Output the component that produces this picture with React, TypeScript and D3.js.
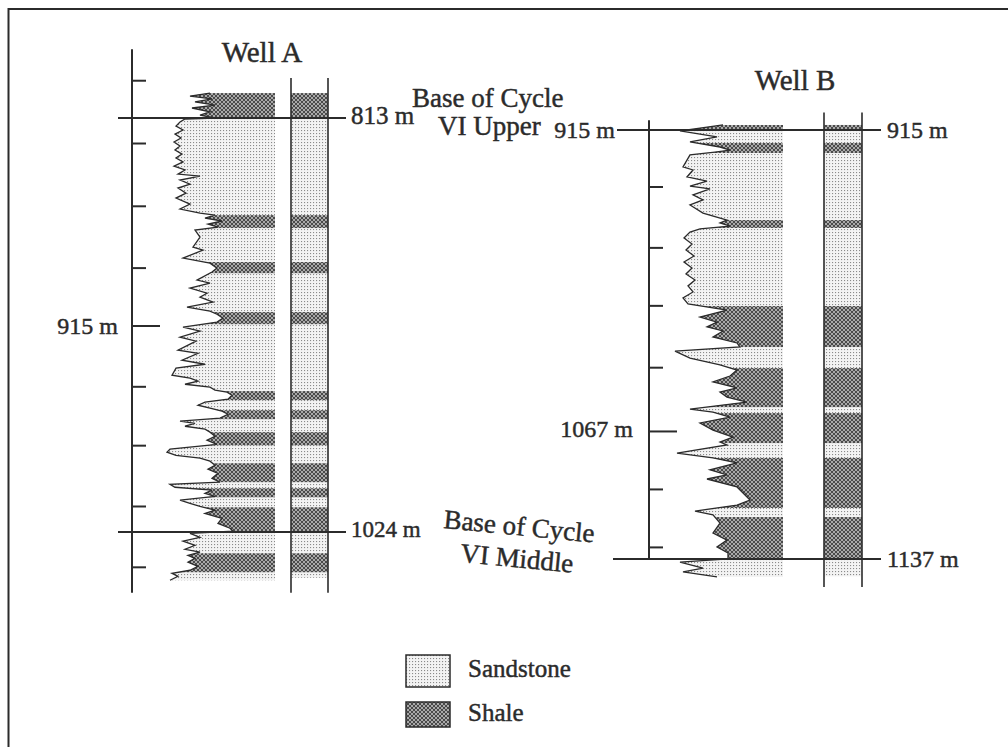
import * as d3 from "d3";

// Well A gamma log (depth in m, gamma reading)
const wellADepth = [
  800.3, 801.8, 803.3, 804.8, 806.4, 807.9, 809.9, 811.5, 813.0, 813.5, 815.0, 817.1, 819.1, 821.2, 823.2, 825.2,
  827.3, 829.3, 831.4, 833.4, 835.4, 837.5, 839.5, 841.6, 842.6, 844.6, 846.7, 848.7, 851.3, 853.8, 856.9, 859.4,
  861.5, 862.5, 864.0, 865.5, 867.1, 868.6, 870.1, 873.7, 878.8, 880.3, 884.4, 887.0, 889.5, 891.5, 895.6, 897.2,
  899.7, 902.3, 904.3, 906.8, 909.4, 911.4, 913.0, 915.0, 917.0, 919.6, 921.6, 924.7, 926.7, 931.3, 932.9, 936.4,
  938.5, 940.5, 944.1, 945.6, 947.1, 948.7, 950.2, 951.7, 952.7, 954.3, 956.3, 957.8, 959.4, 960.9, 962.4, 964.0,
  966.0, 967.5, 968.6, 970.1, 971.6, 973.1, 975.2, 977.2, 979.3, 981.8, 983.3, 984.9, 986.4, 987.9, 990.0, 992.0,
  994.1, 996.6, 998.6, 999.7, 1001.2, 1002.7, 1004.3, 1005.8, 1007.8, 1009.4, 1010.9, 1012.9, 1014.5, 1017.0, 1019.6, 1022.1,
  1023.6, 1024.7, 1026.7, 1028.7, 1030.8, 1032.8, 1034.3, 1035.9, 1037.4, 1039.4, 1041.5, 1043.5, 1045.1, 1046.6, 1048.6,
];
const wellAGamma = [
  45, 25, 47, 30, 50, 27, 45, 35, 50, 20, 15, 11, 18, 10, 16, 9,
  15, 10, 17, 11, 18, 9, 20, 13, 35, 15, 25, 13, 21, 11, 25, 15,
  35, 50, 40, 57, 43, 53, 30, 35, 28, 38, 18, 45, 52, 47, 32, 45,
  25, 42, 35, 48, 22, 45, 52, 58, 52, 18, 35, 15, 31, 13, 33, 17,
  40, 11, 7, 25, 33, 20, 45, 50, 62, 67, 63, 40, 33, 45, 57, 63,
  55, 15, 30, 20, 40, 45, 50, 42, 52, 5, 2, 11, 35, 45, 50, 43,
  53, 47, 55, 5, 10, 47, 40, 50, 15, 25, 35, 50, 40, 57, 53, 65,
  68, 25, 35, 18, 30, 20, 35, 23, 30, 23, 33, 25, 7, 13, 5,
];
const wellAShaleTop = [800.3, 862.5, 886.4, 911.9, 952.2, 961.9, 973.1, 989.0, 1001.7, 1011.4, 1034.9];
const wellAShaleBase = [813, 869.1, 892.1, 918.1, 956.8, 966.5, 979.8, 998.6, 1006.3, 1024, 1044.5];
const wellATicks = [794, 826, 858, 889.5, 919, 950, 980, 1011, 1042];
const wellATickLabels = ["", "", "", "", "915 m", "", "", "", ""];
const wellAMarkers = [813, 1024];
const wellAMarkerLabels = ["813 m", "1024 m"];

// Well B gamma log
const wellBDepth = [
  912.4, 914.0, 915.5, 918.6, 921.2, 923.8, 925.4, 926.4, 927.9, 934.1, 935.7, 939.3, 941.4, 944.0, 945.5, 948.6,
  951.2, 953.8, 958.0, 961.6, 963.1, 964.7, 966.2, 967.8, 970.9, 974.0, 977.1, 980.2, 983.3, 986.4, 989.5, 992.6,
  995.7, 998.8, 1001.9, 1005.0, 1008.2, 1011.8, 1014.4, 1016.9, 1019.0, 1022.1, 1025.2, 1027.3, 1029.4, 1033.0, 1036.6, 1039.2,
  1042.3, 1045.4, 1048.5, 1050.6, 1053.2, 1055.8, 1059.4, 1061.0, 1063.6, 1066.6, 1070.3, 1073.9, 1076.5, 1078.0, 1082.2, 1084.7,
  1087.3, 1090.9, 1093.5, 1095.6, 1099.7, 1106.5, 1109.1, 1112.2, 1114.2, 1118.4, 1123.6, 1127.2, 1130.8, 1133.9, 1137.0, 1138.6,
  1141.7, 1143.7, 1146.3,
];
const wellBGamma = [
  50, 27, 7, 44, 17, 47, 57, 42, 17, 10, 20, 14, 34, 17, 37, 20,
  30, 17, 30, 54, 47, 57, 27, 17, 11, 19, 13, 21, 11, 19, 13, 22,
  15, 20, 10, 15, 54, 27, 44, 34, 50, 40, 64, 67, 2, 17, 47, 64,
  57, 40, 64, 47, 54, 74, 17, 40, 57, 27, 40, 60, 47, 54, 4, 40,
  64, 37, 54, 34, 64, 77, 64, 22, 40, 47, 40, 54, 44, 55, 55, 7,
  30, 10, 44,
];
const wellBShaleTop = [912.4, 921.7, 961.6, 1006.1, 1038.2, 1061.5, 1084.7, 1115.3];
const wellBShaleBase = [915, 926.9, 965.7, 1027.3, 1058.4, 1077.0, 1110.6, 1137];
const wellBTicks = [944.5, 976, 1006, 1038, 1071, 1101, 1131];
const wellBTickLabels = ["", "", "", "", "1067 m", "", ""];
const wellBMarkers = [915, 1137];
const wellBMarkerLabels = ["915 m", "1137 m"];

const legendNames = ["Sandstone", "Shale"];

const INK = "#2b2b2b";
const FONT = "'Liberation Serif', 'Times New Roman', serif";
const txt = { fill: INK, stroke: INK, strokeWidth: 0.45 };

function Well({ id, depth, gamma, shaleTop, shaleBase, y, g, strip, border, fillBase }: any) {
  const pts = depth.map((d: number, i: number) => [d, gamma[i]]);
  const right = g.range()[1];
  const area = d3
    .area<number[]>()
    .y((d) => y(d[0]))
    .x0((d) => g(d[1]))
    .x1(right);
  const line = d3
    .line<number[]>()
    .x((d) => g(d[1]))
    .y((d) => y(d[0]));
  const top = depth[0];
  return (
    <g>
      <defs>
        <clipPath id={"clip" + id}>
          <path d={area(pts) || ""} />
        </clipPath>
      </defs>
      <path d={area(pts) || ""} fill="url(#sand)" />
      <g clipPath={`url(#clip${id})`}>
        {shaleTop.map((t: number, i: number) => (
          <rect key={i} x={g.range()[0] - 20} width={right - g.range()[0] + 20} y={y(t)} height={y(shaleBase[i]) - y(t)} fill="url(#shale)" />
        ))}
      </g>
      <path d={line(pts) || ""} fill="none" stroke={INK} strokeWidth={1.3} />
      {/* lithology strip */}
      <rect x={strip[0]} width={strip[1] - strip[0]} y={y(top)} height={y(fillBase) - y(top)} fill="url(#sand)" />
      {shaleTop.map((t: number, i: number) => (
        <rect key={"s" + i} x={strip[0]} width={strip[1] - strip[0]} y={y(t)} height={y(shaleBase[i]) - y(t)} fill="url(#shale)" />
      ))}
      {strip.map((sx: number, i: number) => (
        <line key={"b" + i} x1={sx} x2={sx} y1={y(border[0])} y2={y(border[1])} stroke={INK} strokeWidth={1.6} />
      ))}
    </g>
  );
}

export default function App() {
  const yA = d3.scaleLinear().domain([813, 1024]).range([118, 532]);
  const gA = d3.scaleLinear().domain([0, 110]).range([165, 275]);
  const yB = d3.scaleLinear().domain([915, 1137]).range([130, 559]);
  const gB = d3.scaleLinear().domain([0, 110]).range([673, 783]);

  const axisAX = 132;
  const axisBX = 649;

  return (
    <svg width={1008} height={747} style={{ position: "absolute", left: 0, top: 0, background: "#fff" }} fontFamily={FONT}>
      <defs>
        <pattern id="sand" width={3} height={3} patternUnits="userSpaceOnUse">
          <rect width={3} height={3} fill="#f3f3f3" />
          <rect x={1} y={1} width={1.1} height={1.1} fill="#8a8a8a" />
        </pattern>
        <pattern id="shale" width={4} height={4} patternUnits="userSpaceOnUse">
          <rect width={4} height={4} fill="#a9a9a9" />
          <path d="M0,0L4,4M4,0L0,4" stroke="#4a4a4a" strokeWidth={1} />
        </pattern>
      </defs>

      {/* frame */}
      <path d="M8.5,747 L8.5,9 L1008,9" fill="none" stroke={INK} strokeWidth={2} />

      {/* Well A */}
      <text x={262} y={62} fontSize={29} textAnchor="middle" {...txt}>Well A</text>
      <Well id="A" depth={wellADepth} gamma={wellAGamma} shaleTop={wellAShaleTop} shaleBase={wellAShaleBase}
        y={yA} g={gA} strip={[291, 328]} border={[792.6, 1055]} fillBase={1047.3} />
      <line x1={axisAX} x2={axisAX} y1={yA(778)} y2={yA(1055)} stroke={INK} strokeWidth={2} />
      {wellATicks.map((t, i) => (
        <g key={i}>
          <line x1={axisAX} x2={axisAX + (wellATickLabels[i] ? 28 : 14)} y1={yA(t)} y2={yA(t)} stroke={INK} strokeWidth={2} />
          {wellATickLabels[i] && (
            <text x={118} y={yA(t) + 8} fontSize={24} textAnchor="end" {...txt}>{wellATickLabels[i]}</text>
          )}
        </g>
      ))}
      {wellAMarkers.map((m, i) => (
        <g key={i}>
          <line x1={118} x2={346} y1={yA(m)} y2={yA(m)} stroke={INK} strokeWidth={2} />
          <text x={351} y={yA(m) + (i === 0 ? 6 : 5)} fontSize={i === 0 ? 25 : 23} {...txt}>{wellAMarkerLabels[i]}</text>
        </g>
      ))}
      <text x={412} y={107} fontSize={27} {...txt}>Base of Cycle</text>
      <text x={438} y={135} fontSize={27} {...txt}>VI Upper</text>
      <g transform="translate(443,528) rotate(5.5)">
        <text x={0} y={0} fontSize={27} {...txt}>Base of Cycle</text>
        <text x={20} y={32} fontSize={27} {...txt}>VI Middle</text>
      </g>

      {/* Well B */}
      <text x={795} y={90} fontSize={29} textAnchor="middle" {...txt}>Well B</text>
      <Well id="B" depth={wellBDepth} gamma={wellBGamma} shaleTop={wellBShaleTop} shaleBase={wellBShaleBase}
        y={yB} g={gB} strip={[824, 862]} border={[906, 1151.5]} fillBase={1146} />
      <line x1={axisBX} x2={axisBX} y1={yB(910)} y2={yB(1137)} stroke={INK} strokeWidth={2} />
      {wellBTicks.map((t, i) => (
        <g key={i}>
          <line x1={axisBX} x2={axisBX + (wellBTickLabels[i] ? 28 : 14)} y1={yB(t)} y2={yB(t)} stroke={INK} strokeWidth={2} />
          {wellBTickLabels[i] && (
            <text x={633} y={yB(t) + 6} fontSize={24} textAnchor="end" {...txt}>{wellBTickLabels[i]}</text>
          )}
        </g>
      ))}
      {wellBMarkers.map((m, i) => (
        <g key={i}>
          <line x1={i === 0 ? 617 : 613} x2={881} y1={yB(m)} y2={yB(m)} stroke={INK} strokeWidth={2} />
          <text x={887} y={yB(m) + 8} fontSize={24} {...txt}>{wellBMarkerLabels[i]}</text>
        </g>
      ))}
      <text x={615} y={yB(915) + 8} fontSize={24} textAnchor="end" {...txt}>{wellBMarkerLabels[0]}</text>

      {/* legend */}
      {legendNames.map((n, i) => (
        <g key={n}>
          <rect x={406} y={i === 0 ? 655 : 702} width={44} height={i === 0 ? 32 : 25}
            fill={i === 0 ? "url(#sand)" : "url(#shale)"} stroke={INK} strokeWidth={1.5} />
          <text x={468} y={i === 0 ? 677 : 721} fontSize={25} {...txt}>{n}</text>
        </g>
      ))}
    </svg>
  );
}
